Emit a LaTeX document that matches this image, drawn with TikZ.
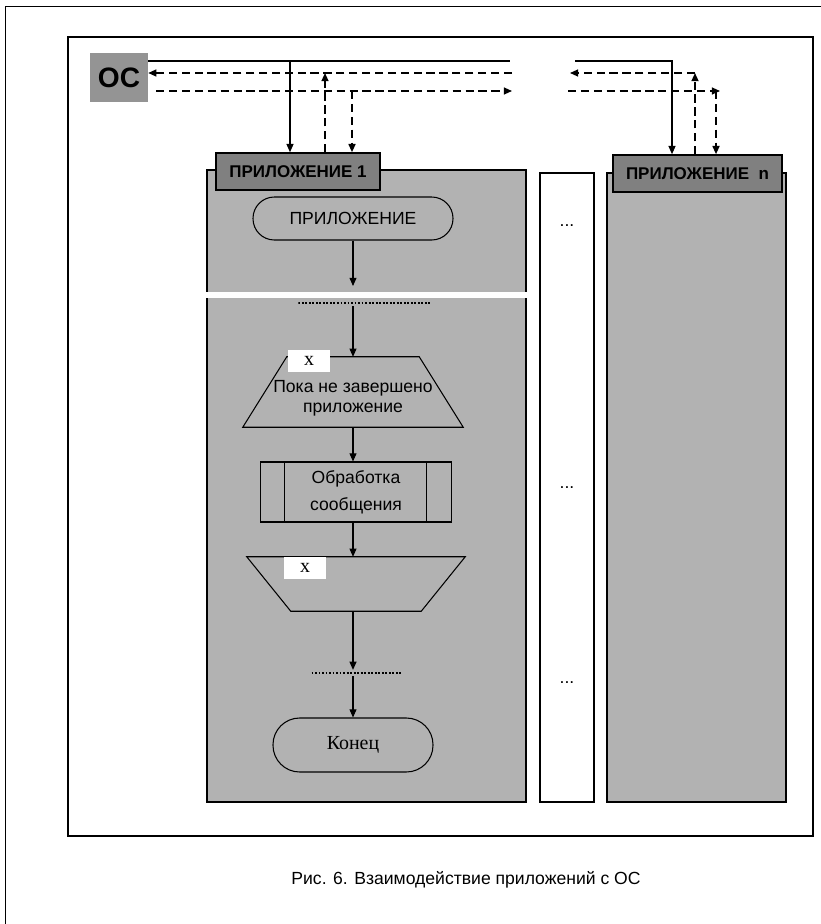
\documentclass[tikz,border=0pt]{standalone}
\usepackage{fontspec}
\setmainfont{Liberation Sans}
\newfontfamily\timesfont{Liberation Serif}
\usepackage{tikz}
\usetikzlibrary{arrows.meta,positioning,calc,shapes.geometric}
\definecolor{scanGray}{gray}{0.70}
\definecolor{headGray}{gray}{0.50}
\definecolor{osGray}{gray}{0.58}

\begin{document}
\begin{tikzpicture}[x=0.03cm,y=-0.03cm,
    panel/.style={draw=black,line width=1.2pt,fill=scanGray},
    headbox/.style={rectangle,draw=black,line width=1.4pt,fill=headGray,
                    minimum width=#1,minimum height=1.11cm,inner sep=1pt,
                    font=\fontsize{14.5}{16}\selectfont\bfseries},
    osbox/.style={rectangle,fill=osGray,minimum width=1.74cm,
                  minimum height=1.47cm,font=\fontsize{24}{26}\selectfont\bfseries},
    termbox/.style={rectangle,draw=black,line width=0.9pt,inner sep=0pt},
    loopframe/.style={rectangle,inner sep=0pt},
    outline/.style={line width=0.9pt,line join=miter},
    procbox/.style={rectangle,draw=black,line width=0.9pt,minimum width=5.73cm,
                    minimum height=1.8cm,align=center,inner sep=0pt,
                    font=\fontsize{15}{23}\selectfont,
                    path picture={
                      \draw[line width=0.9pt]
                        ([xshift=0.72cm]path picture bounding box.north west) --
                        ([xshift=0.72cm]path picture bounding box.south west);
                      \draw[line width=0.9pt]
                        ([xshift=-0.75cm]path picture bounding box.north east) --
                        ([xshift=-0.75cm]path picture bounding box.south east);}},
    xbox/.style={rectangle,fill=white,minimum width=1.26cm,minimum height=0.66cm,
                 inner sep=0pt,font=\timesfont\fontsize{17}{18}\selectfont},
    ellipsisbar/.style={minimum width=#1,minimum height=5pt,inner sep=0pt,
                        path picture={\draw[line width=1.6pt,dash pattern=on 1.6pt off 1.4pt]
                          (path picture bounding box.west) -- (path picture bounding box.east);}},
    dotslbl/.style={font=\fontsize{15}{16}\selectfont},
    flow/.style={-{Triangle[length=7pt,width=6pt]},line width=0.9pt},
    bus/.style={line width=0.9pt},
    msg/.style={line width=1.3pt,dash pattern=on 7pt off 4pt},
    msgarrow/.style={msg,-{Triangle[length=7pt,width=6pt]}}
  ]
  \useasboundingbox (0,0) rectangle (821,924);
  % Frames
  \draw[line width=0.5pt] (5,924) -- (5,6) -- (821,6);
  \draw[line width=1.4pt] (68,37) rectangle (813,836);
  % Panels
  \draw[panel] (207,170) rectangle (526,802);
  \fill[white] (205,292) rectangle (528,298);
  \draw[line width=1.2pt,fill=white] (540,173) rectangle (594,802);
  \draw[panel] (607,173) rectangle (786,802);
  % OS
  \node[osbox] (os) at (119,77.5) {ОС};
  % Headers
  \node[headbox=4.92cm] (title1) at (298,171.5) {ПРИЛОЖЕНИЕ 1};
  \node[headbox=5.07cm] (titlen) at (697.5,173.5) {ПРИЛОЖЕНИЕ\ \ n};
  % Application 1 flow
  \node[termbox,rounded corners=0.64cm,minimum width=6cm,minimum height=1.29cm,
        font=\fontsize{15}{16}\selectfont] (start) at (353,218.5) {ПРИЛОЖЕНИЕ};
  \node[ellipsisbar=4cm] (ellA) at (365,303) {};
  \node[loopframe,minimum width=6.6cm,minimum height=2.1cm] (loopA) at (353,392) {};
  \draw[outline] (loopA.south west) -- ([xshift=1.32cm]loopA.north west)
     -- ([xshift=-1.32cm]loopA.north east) -- (loopA.south east) -- cycle;
  \node[align=center,font=\fontsize{15}{17}\selectfont] (loopAtext) at (353,398)
       {Пока не завершено\\приложение};
  \node[xbox] (xA) at (309,361) {x};
  \node[procbox] (proc) at (356,492) {Обработка\\сообщения};
  \node[loopframe,minimum width=6.54cm,minimum height=1.62cm] (loopB) at (356,584) {};
  \draw[outline] (loopB.north west) -- (loopB.north east)
     -- ([xshift=-1.32cm]loopB.south east) -- ([xshift=1.32cm]loopB.south west) -- cycle;
  \node[xbox] (xB) at (305,568) {x};
  \node[ellipsisbar=2.73cm] (ellB) at (357,673) {};
  \node[termbox,rounded corners=0.8cm,minimum width=4.8cm,minimum height=1.62cm,
        font=\timesfont\fontsize{17}{18}\selectfont] (stop) at (353,745) {Конец};
  % Middle dots
  \node[dotslbl] (dots1) at (567,226) {...};
  \node[dotslbl] (dots2) at (567,488) {...};
  \node[dotslbl] (dots3) at (567,683) {...};
  % Flow arrows
  \coordinate (gapTop) at (353,286);
  \draw[flow] (start.south) -- (gapTop);
  \draw[flow] (start.south |- ellA.south) -- (start.south |- loopA.north);
  \draw[flow] (loopA.south) -- (loopA.south |- proc.north);
  \draw[flow] (loopA.south |- proc.south) -- (loopA.south |- loopB.north);
  \draw[flow] (loopA.south |- loopB.south) -- (loopA.south |- ellB.north);
  \draw[flow] (loopA.south |- ellB.south) -- (stop.north);
  % OS links
  \coordinate (busEnd) at (510,61);
  \coordinate (tap1) at (290,61);
  \coordinate (busStart) at (575,61);
  \coordinate (tapN) at (672,61);
  \coordinate (retEnd) at (512,73);
  \coordinate (up1) at (325,73);
  \coordinate (retStartN) at (570,73);
  \coordinate (upN) at (695,73);
  \coordinate (sendEnd) at (512,91);
  \coordinate (down1) at (352,91);
  \coordinate (sendStartN) at (568,91);
  \coordinate (sendEndN) at (720,91);
  \coordinate (downN) at (716,91);
  \draw[bus] (os.east |- busEnd) -- (busEnd);
  \draw[flow] (tap1) -- (tap1 |- title1.north);
  \draw[flow] (busStart) -- (tapN) -- (tapN |- titlen.north);
  \draw[msgarrow] (retEnd) -- (os.east |- retEnd);
  \draw[msgarrow] (up1 |- title1.north) -- (up1);
  \draw[msgarrow] (upN) -- (retStartN);
  \draw[msgarrow] (upN |- titlen.north) -- (upN);
  \draw[msgarrow] ([xshift=0.24cm]os.east |- sendEnd) -- (sendEnd);
  \draw[msgarrow] (down1) -- (down1 |- title1.north);
  \draw[msgarrow] (sendStartN) -- (sendEndN);
  \draw[msgarrow] (downN) -- (downN |- titlen.north);
  % Caption
  \node[font=\fontsize{15}{18}\selectfont] (caption) at (466,880)
       {Рис. 6. Взаимодействие приложений с ОС};
\end{tikzpicture}
\end{document}
